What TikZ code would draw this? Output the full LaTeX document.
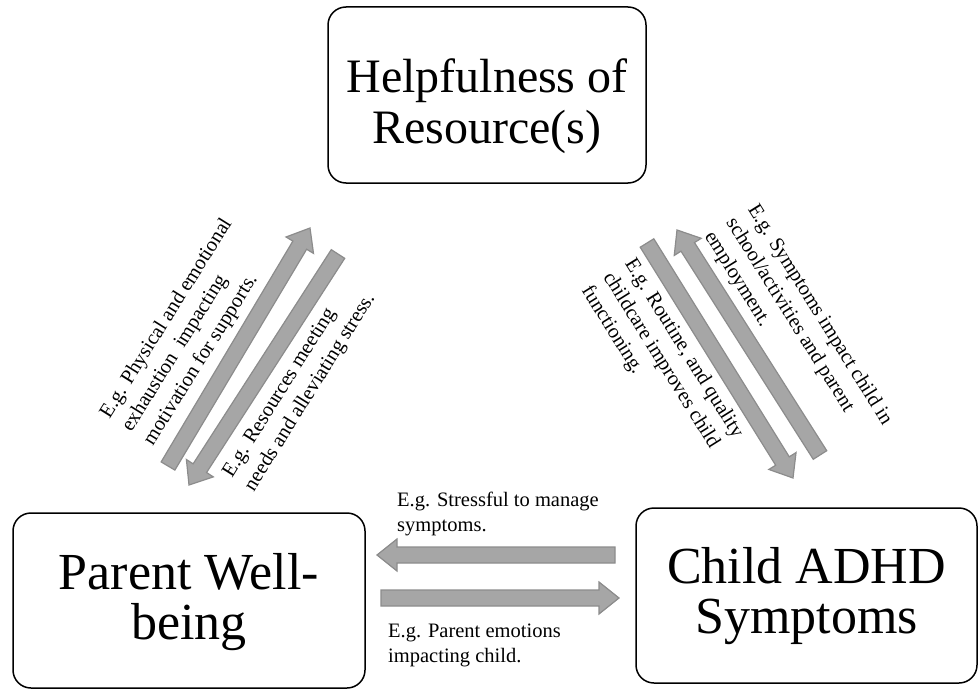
\documentclass[tikz,border=0pt]{standalone}
\usepackage{fontspec}
\setmainfont{Liberation Serif}
\usetikzlibrary{calc}
\definecolor{arrowfill}{HTML}{A6A6A6}
\definecolor{arrowedge}{HTML}{8C8C8C}
\tikzset{
 bigbox/.style={draw=black, line width=1.5pt, rounded corners=18pt, fill=white, inner sep=0pt},
 boxtext/.style={align=center, font=\fontsize{52}{50}\selectfont, inner sep=0pt},
 blockarrow/.style={fill=arrowfill, draw=arrowedge, line width=1.2pt, line join=miter},
 lbl/.style={align=left, font=\fontsize{20.5}{25.5}\selectfont, inner sep=0pt, anchor=west},
}
\newcommand{\blockarr}[2]{%
 \coordinate (#1#2b) at ($(#2)!20pt!(#1)$);
 \draw[blockarrow] ($(#1)!8pt!90:(#2)$) -- ($(#1#2b)!8pt!90:(#2)$) -- ($(#1#2b)!16pt!90:(#2)$) -- (#2) -- ($(#1#2b)!16pt!-90:(#2)$) -- ($(#1#2b)!8pt!-90:(#2)$) -- ($(#1)!8pt!-90:(#2)$) -- cycle;
}
\begin{document}
\begin{tikzpicture}[x=1pt,y=-1pt]
\useasboundingbox (0,0) rectangle (979,690);
% boxes
\node[bigbox, minimum width=318pt, minimum height=176pt] (res) at (487,95) {};
\node[bigbox, minimum width=352pt, minimum height=175pt] (par) at (189,600.5) {};
\node[bigbox, minimum width=341pt, minimum height=175pt] (chd) at (806.5,595.5) {};
\node[boxtext, font=\fontsize{48}{51}\selectfont] (resT) at ($(res.center)+(0,11)$) {Helpfulness of\\Resource(s)};
\node[boxtext] (parT) at ($(par.center)+(0,2)$) {Parent Well-\\being};
\node[boxtext] (chdT) at ($(chd.center)+(0,1)$) {Child ADHD\\Symptoms};
% arrow end points
\coordinate (aT) at (168,466); \coordinate (aH) at (310,228);
\coordinate (bT) at (338,254); \coordinate (bH) at (189,485);
\coordinate (cT) at (820,455); \coordinate (cH) at (677,230);
\coordinate (dT) at (647,243); \coordinate (dH) at (793,478);
\coordinate (eT) at (615,555); \coordinate (eH) at (377,555);
\coordinate (fT) at (381,598); \coordinate (fH) at (619,598);
\blockarr{aT}{aH}
\blockarr{bT}{bH}
\blockarr{cT}{cH}
\blockarr{dT}{dH}
\blockarr{eT}{eH}
\blockarr{fT}{fH}
% labels
\node[lbl, rotate=58] (l1) at (127,430.5) {E.g. Physical and emotional\\exhaustion\ \ impacting\\motivation for supports.};
\node[lbl, rotate=58] (l2) at (239,483) {E.g. Resources meeting\\needs and alleviating stress.};
\node[lbl, rotate=-58] (r1) at (730,220) {E.g. Symptoms impact child in\\school/activities and parent\\employment.};
\node[lbl, rotate=-58] (r2) at (607,274.5) {E.g. Routine, and quality\\childcare improves child\\functioning.};
\node[lbl] (h1) at (397,514) {E.g. Stressful to manage\\symptoms.};
\node[lbl] (h2) at (388,645.5) {E.g. Parent emotions\\impacting child.};
\end{tikzpicture}
\end{document}
